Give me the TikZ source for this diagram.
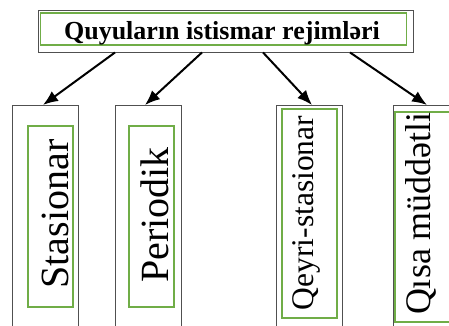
\documentclass[tikz,border=0pt]{standalone}
\usepackage{fontspec}
\setmainfont{Liberation Serif}
\usetikzlibrary{arrows.meta}
\definecolor{boxgreen}{HTML}{70AD47}
\definecolor{boxgray}{HTML}{505050}
\tikzset{
  outerbox/.style={draw=boxgray, line width=0.9pt, inner sep=0pt},
  greenbox/.style={draw=boxgreen, line width=1.2pt, inner sep=0pt},
  vtext/.style={rotate=90, anchor=base, inner sep=0pt},
  arr/.style={-{Latex[length=15pt,width=12pt]}, line width=2pt}
}
\begin{document}
\begin{tikzpicture}[x=1pt,y=-1pt]
\useasboundingbox (0,0) rectangle (449,325);
\clip (0,0) rectangle (449,325);
% top box
\node[outerbox, minimum width=375, minimum height=42] (top) at (226,31) {};
\node[greenbox, minimum width=366, minimum height=32] (topg) at (223.5,29) {};
\node[anchor=base, inner sep=0pt, font=\bfseries\fontsize{26}{26}\selectfont] (toptxt) at (222,39) {Quyuların istismar rejimləri};
% lower boxes
\node[outerbox, minimum width=66, minimum height=240, anchor=north] (b1) at (45,105) {};
\node[outerbox, minimum width=66, minimum height=240, anchor=north] (b2) at (148.5,105) {};
\node[outerbox, minimum width=66, minimum height=240, anchor=north] (b3) at (309.5,105) {};
\node[outerbox, minimum width=66, minimum height=240, anchor=north] (b4) at (426,105) {};
\node[greenbox, minimum width=45, minimum height=181] (g1) at (50.5,216.5) {};
\node[greenbox, minimum width=45, minimum height=181] (g2) at (151.5,216.5) {};
\node[greenbox, minimum width=55, minimum height=209] (g3) at (309.5,213.5) {};
\node[greenbox, minimum width=60, minimum height=210] (g4) at (425,217) {};
\node[vtext, font=\fontsize{40}{40}\selectfont] (t1) at (68,214) {Stasionar};
\node[vtext, font=\fontsize{40}{40}\selectfont] (t2) at (168,215) {Periodik};
\node[vtext, font=\fontsize{31.5}{31.5}\selectfont] (t3) at (313,213) {Qeyri-stasionar};
\node[vtext, font=\fontsize{36}{36}\selectfont] (t4) at (430,213.5) {Qısa müddətli};
% arrows
\draw[arr] ([xshift=-111pt]top.south) -- ([xshift=-2pt]b1.north);
\draw[arr] ([xshift=-24pt]top.south) -- ([xshift=-3.5pt]b2.north);
\draw[arr] ([xshift=37pt]top.south) -- ([xshift=2.5pt]b3.north);
\draw[arr] ([xshift=124pt]top.south) -- ([xshift=1pt]b4.north);
\end{tikzpicture}
\end{document}
